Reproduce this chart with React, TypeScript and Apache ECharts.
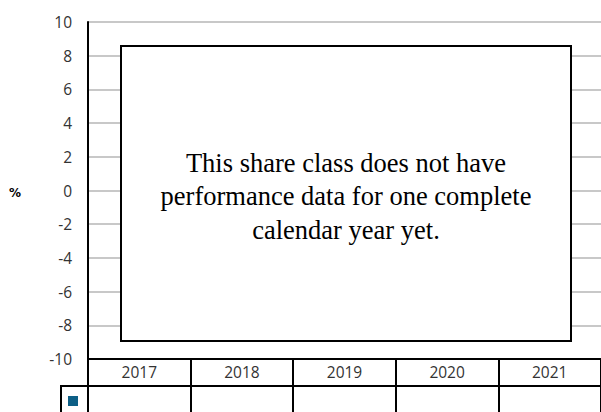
import React, { useEffect, useRef } from "react";
import * as echarts from "echarts";

const categories = ["2017", "2018", "2019", "2020", "2021"];
const fundValues: (number | null)[] = [null, null, null, null, null];
const seriesName = "Fund";
const yTicks = { min: -10, max: 10, interval: 2 };
const messageLines = [
  "This share class does not have",
  "performance data for one complete",
  "calendar year yet.",
];

export default function App() {
  const ref = useRef<HTMLDivElement>(null);
  useEffect(() => {
    if (!ref.current) return;
    const chart = echarts.init(ref.current, undefined, { renderer: "svg" });
    const labelFont = "'Open Sans', 'Noto Sans', sans-serif";
    chart.setOption({
      animation: false,
      backgroundColor: "#ffffff",
      grid: { left: 88, right: 0, top: 22, bottom: 53, containLabel: false },
      legend: {
        show: true,
        left: 68,
        top: 396,
        icon: "rect",
        itemWidth: 10,
        itemHeight: 10,
        itemGap: 0,
        padding: 0,
        formatter: () => "",
        data: [seriesName],
      },
      xAxis: {
        type: "category",
        data: categories,
        boundaryGap: true,
        axisLine: { show: true, onZero: false, lineStyle: { color: "#000", width: 2 } },
        axisTick: {
          show: true,
          alignWithLabel: false,
          inside: false,
          length: 53,
          lineStyle: { color: "#000", width: 2 },
        },
        axisLabel: {
          color: "#333",
          fontFamily: labelFont,
          fontSize: 15.5,
          margin: 5,
        },
        splitLine: { show: false },
      },
      yAxis: {
        type: "value",
        min: yTicks.min,
        max: yTicks.max,
        interval: yTicks.interval,
        axisLine: { show: true, onZero: false, lineStyle: { color: "#000", width: 2 } },
        axisTick: { show: false },
        axisLabel: {
          color: "#333",
          fontFamily: labelFont,
          fontSize: 15.5,
          margin: 16,
        },
        splitLine: { show: true, lineStyle: { color: "#c8c8c8", width: 2 } },
      },
      series: [
        {
          name: seriesName,
          type: "bar",
          data: fundValues,
          itemStyle: { color: "#0d5f86" },
        },
      ],
      graphic: [
        {
          type: "line",
          shape: { x1: 61, y1: 386, x2: 601, y2: 386 },
          style: { stroke: "#000", lineWidth: 2 },
          z: 100,
        },
        {
          type: "line",
          shape: { x1: 61, y1: 385, x2: 61, y2: 412 },
          style: { stroke: "#000", lineWidth: 2 },
          z: 100,
        },
        {
          type: "rect",
          shape: { x: 121, y: 46, width: 450, height: 295 },
          style: { fill: "#ffffff", stroke: "#000", lineWidth: 2 },
          z: 100,
        },
        {
          type: "text",
          x: 346,
          y: 196,
          style: {
            text: messageLines.join("\n"),
            fill: "#000",
            font: "26.5px 'Liberation Serif', 'Times New Roman', serif",
            lineHeight: 33.5,
            align: "center",
            verticalAlign: "middle",
          },
          z: 101,
        },
        {
          type: "text",
          x: 15,
          y: 193,
          style: {
            text: "%",
            fill: "#000",
            font: "bold 12px 'DejaVu Sans', sans-serif",
            align: "center",
            verticalAlign: "middle",
          },
          z: 101,
        },
      ],
    });
    return () => chart.dispose();
  }, []);
  return <div ref={ref} style={{ width: 601, height: 412, position: "absolute", left: 0, top: 0 }} />;
}
